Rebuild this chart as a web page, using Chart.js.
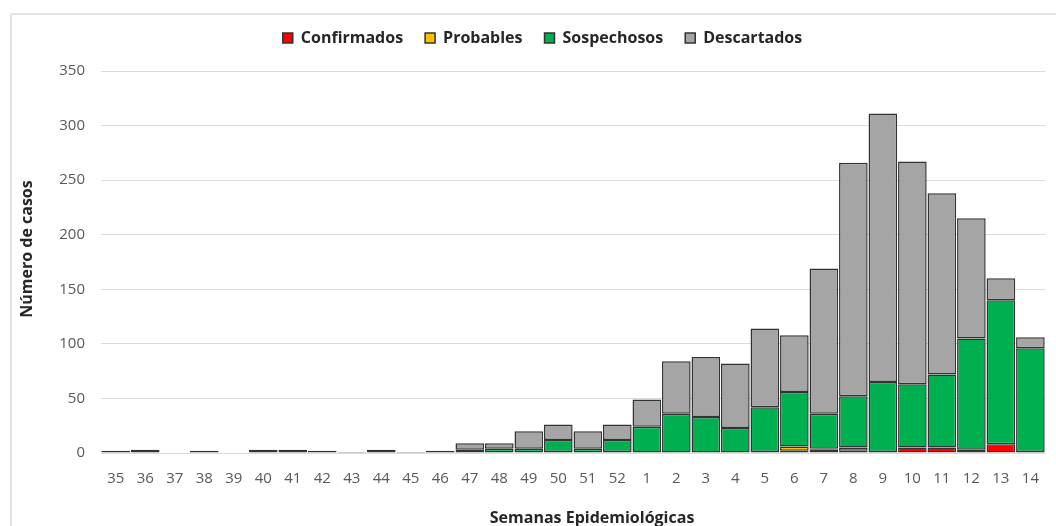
<!DOCTYPE html>
<html>
<head>
<meta charset="utf-8">
<script src="https://cdn.jsdelivr.net/npm/chart.js@4.4.1/dist/chart.umd.min.js"></script>
<style>
  html, body { margin: 0; padding: 0; background: #fff; overflow: hidden; }
  #wrap { position: relative; width: 1056px; height: 526px; overflow: hidden; }
  #frame { position: absolute; left: 10px; top: 13px; width: 1200px; height: 700px;
           border: 2px solid #e3e3e3; box-sizing: border-box; }
  #box { position: absolute; left: 0; top: 0; width: 1056px; height: 545px; }
</style>
</head>
<body>
<div id="wrap">
  <div id="frame"></div>
  <div id="box"><canvas id="chart" width="1056" height="545"></canvas></div>
</div>
<script>
// Semanas epidemiológicas 35–52 y 1–14
const semanas = ['35','36','37','38','39','40','41','42','43','44','45','46','47','48','49','50','51','52',
                 '1','2','3','4','5','6','7','8','9','10','11','12','13','14'];
const confirmados = [0,0,0,0,0,0,0,0,0,0,0,0, 0,0,0,0,0,0, 0,0,0,0,0,2,3,2,1,5,5,3,8,1];
const probables   = [0,0,0,0,0,0,0,0,0,0,0,0, 0,0,0,1,0,1, 0,0,0,0,1,4,1,3,0,0,0,0,0,0];
const sospechosos = [1,3,0,0,0,0,0,0,0,1,1,0, 3,4,4,11,4,11, 24,36,33,23,41,50,32,47,64,58,67,102,132,95];
const descartados = [1,0,0,2,0,3,3,2,1,2,0,2, 6,5,16,14,16,14, 25,48,55,59,72,52,133,214,246,204,166,110,20,10];
const yTicks = [0, 50, 100, 150, 200, 250, 300, 350];

const edge = '#333333';
function serie(label, data, color) {
  return {
    label, data,
    backgroundColor: color,
    borderColor: edge,
    borderWidth: 1.5,
    borderSkipped: false,
    barPercentage: 1,
    categoryPercentage: 0.97
  };
}

// shift a box's drawing routine by a fixed offset
function nudge(obj, method, dx, dy) {
  const orig = obj[method];
  obj[method] = function (...args) {
    const ctx = this.ctx;
    ctx.save();
    ctx.translate(dx, dy);
    orig.apply(this, args);
    ctx.restore();
  };
}

// legend block height fixes the top of the plot area; legend and titles sit off-centre
const layoutTweaks = {
  id: 'layoutTweaks',
  beforeInit(chart) {
    const fit = chart.legend.fit;
    chart.legend.fit = function () { fit.bind(chart.legend)(); this.height = 63; };
    nudge(chart.legend, 'draw', 16, 0);
  },
  afterUpdate(chart) {
    if (chart.$titlesNudged) return;
    chart.$titlesNudged = true;
    nudge(chart.scales.x, 'drawTitle', 19, 0);
    nudge(chart.scales.y, 'drawTitle', 0, -13);
  }
};

new Chart(document.getElementById('chart'), {
  type: 'bar',
  data: {
    labels: semanas,
    datasets: [
      serie('Confirmados', confirmados, '#ff0000'),
      serie('Probables', probables, '#ffc000'),
      serie('Sospechosos', sospechosos, '#00b050'),
      serie('Descartados', descartados, '#a5a5a5')
    ]
  },
  plugins: [layoutTweaks],
  options: {
    responsive: false,
    animation: false,
    layout: { padding: { left: 0, right: 3, top: 8, bottom: 0 } },
    plugins: {
      tooltip: { enabled: false },
      legend: {
        position: 'top',
        labels: {
          boxWidth: 10, boxHeight: 10, padding: 22,
          color: '#262626',
          font: { family: '"Open Sans"', size: 16, weight: 'bold' }
        }
      }
    },
    scales: {
      x: {
        stacked: true,
        grid: { display: false, drawTicks: false },
        border: { display: false },
        ticks: { color: '#595959', padding: 17, maxRotation: 0, autoSkip: false,
                 font: { family: '"Open Sans"', size: 15 } },
        title: { display: true, text: 'Semanas Epidemiológicas', color: '#262626',
                 padding: { top: 0, bottom: 17 },
                 font: { family: '"Open Sans"', size: 16, weight: 'bold' } },
        afterFit(s) { s.height = 92; }
      },
      y: {
        stacked: true,
        min: 0, max: 350,
        afterBuildTicks(s) { s.ticks = yTicks.map(v => ({ value: v })); },
        grid: { color: '#dcdcdc', lineWidth: 1, drawTicks: false },
        border: { display: false },
        ticks: { color: '#595959', padding: 16,
                 font: { family: '"Open Sans"', size: 15 } },
        title: { display: true, text: 'Número de casos', color: '#262626',
                 padding: { top: 18, bottom: 0 },
                 font: { family: '"Open Sans"', size: 16, weight: 'bold' } },
        afterFit(s) { s.width = 101; }
      }
    }
  }
});
</script>
</body>
</html>
